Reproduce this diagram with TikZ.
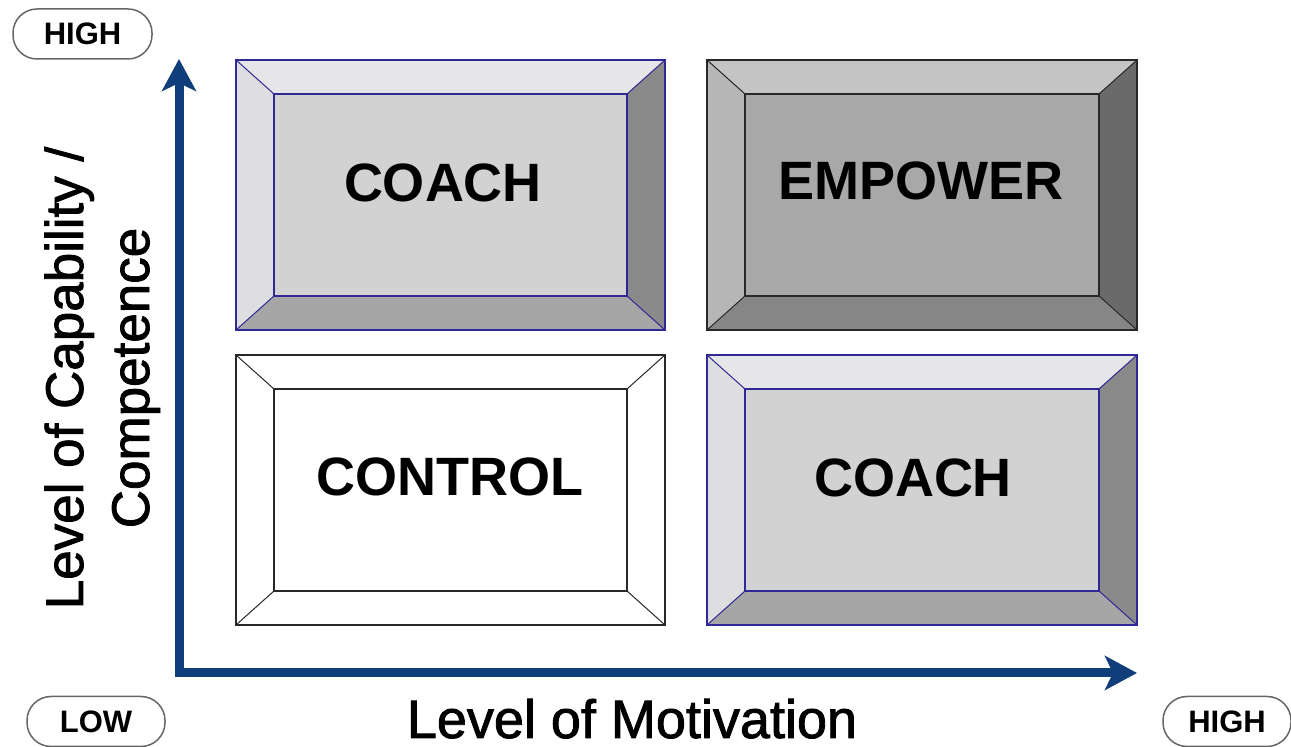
\documentclass[tikz,border=0pt]{standalone}
\usepackage{fontspec}
\setmainfont{Liberation Sans}
\newfontfamily\heavysans[FakeBold=1.6]{Liberation Sans}
\usetikzlibrary{arrows.meta}
\definecolor{axisblue}{RGB}{16,62,122}
\definecolor{coachborder}{RGB}{48,40,150}
\definecolor{darkborder}{RGB}{40,40,40}
% COACH palette
\definecolor{cT}{RGB}{230,230,232}
\definecolor{cL}{RGB}{222,222,224}
\definecolor{cC}{RGB}{210,210,210}
\definecolor{cR}{RGB}{138,138,138}
\definecolor{cB}{RGB}{166,166,166}
% EMPOWER palette
\definecolor{eT}{RGB}{196,196,196}
\definecolor{eL}{RGB}{182,182,182}
\definecolor{eC}{RGB}{168,168,168}
\definecolor{eR}{RGB}{106,106,106}
\definecolor{eB}{RGB}{134,134,134}
% CONTROL palette
\definecolor{wT}{RGB}{255,255,255}
\definecolor{wL}{RGB}{255,255,255}
\definecolor{wC}{RGB}{255,255,255}
\definecolor{wR}{RGB}{255,255,255}
\definecolor{wB}{RGB}{255,255,255}
% bevel box: #1 x1, #2 y1, #3 x2, #4 y2, #5 palette prefix, #6 border colour
\newcommand\bevelbox[6]{%
  \fill[#5T] (#1,#2) -- (#3,#2) -- (#3-38,#2+34) -- (#1+38,#2+34) -- cycle;
  \fill[#5L] (#1,#2) -- (#1+38,#2+34) -- (#1+38,#4-34) -- (#1,#4) -- cycle;
  \fill[#5R] (#3,#2) -- (#3,#4) -- (#3-38,#4-34) -- (#3-38,#2+34) -- cycle;
  \fill[#5B] (#1,#4) -- (#1+38,#4-34) -- (#3-38,#4-34) -- (#3,#4) -- cycle;
  \fill[#5C] (#1+38,#2+34) rectangle (#3-38,#4-34);
  \draw[boxline,#6] (#1,#2) rectangle (#3,#4);
  \draw[boxline,#6] (#1+38,#2+34) rectangle (#3-38,#4-34);
  \draw[diagline,#6] (#1,#2) -- (#1+38,#2+34)
                     (#3,#2) -- (#3-38,#2+34)
                     (#1,#4) -- (#1+38,#4-34)
                     (#3,#4) -- (#3-38,#4-34);
}
\begin{document}
\begin{tikzpicture}[x=0.5pt,y=-0.5pt,
  boxline/.style={line width=0.8pt},
  diagline/.style={line width=0.5pt},
  boxlabel/.style={font=\fontsize{27}{32}\selectfont\bfseries, anchor=base, inner sep=0pt},
  axislabel/.style={font=\heavysans\fontsize{27}{32}\selectfont, anchor=base, inner sep=0pt},
  pill/.style={draw=black!60, line width=0.75pt, rounded corners=12pt, fill=white,
    font=\fontsize{15.5}{18}\selectfont\bfseries, inner sep=0pt, minimum height=25pt},
  axis/.style={draw=axisblue, line width=4.5pt, line join=miter,
    -{Stealth[length=16pt,width=17pt,inset=4pt]}}
]
\useasboundingbox (0,0) rectangle (1291,747);
\fill[white] (0,0) rectangle (1291,747);

% quadrants
\bevelbox{236}{60}{665}{330}{c}{coachborder}
\bevelbox{707}{60}{1137}{330}{e}{darkborder}
\bevelbox{236}{355}{665}{625}{w}{darkborder}
\bevelbox{707}{355}{1137}{625}{c}{coachborder}

\node[boxlabel] (coachA) at (443,202) {COACH};
\node[boxlabel] (empower) at (921,200) {EMPOWER};
\node[boxlabel] (control) at (450,496) {CONTROL};
\node[boxlabel] (coachB) at (913,497) {COACH};

% axes
\coordinate (origin) at (179,673);
\coordinate (ytop) at (179,59);
\coordinate (xend) at (1137,673);
\draw[axis] (origin) -- (ytop);
\draw[axis] ([xshift=-2.25pt]origin) -- (xend);

% axis titles
\node[axislabel] (xtitle) at (632,738) {Level of Motivation};
\node[axislabel, rotate=90, font=\heavysans\fontsize{26.5}{32}\selectfont] (ytitle1) at (83,378) {Level of Capability /};
\node[axislabel, rotate=90, font=\heavysans\fontsize{26.5}{32}\selectfont] (ytitle2) at (149,378) {Competence};

% pills
\node[pill, minimum width=69.5pt] (highY) at (82.5,34) {HIGH};
\node[pill, minimum width=69pt] (low) at (96,721.5) {LOW};
\node[pill, minimum width=64pt] (highX) at (1227,721.5) {HIGH};
\end{tikzpicture}
\end{document}
